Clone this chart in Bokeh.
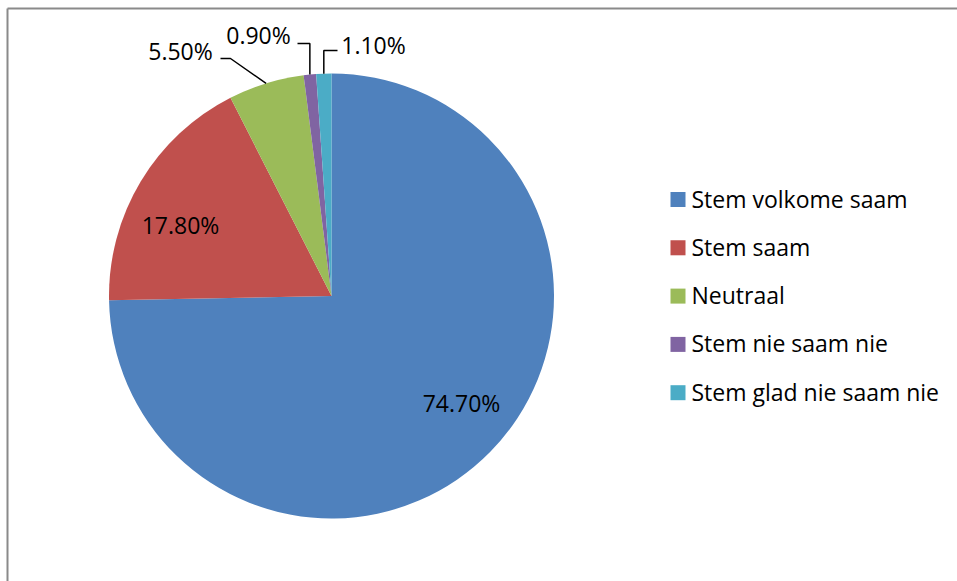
import math
from bokeh.plotting import figure
from bokeh.models import ColumnDataSource
from bokeh.core.properties import value
from bokeh.embed import file_html
from bokeh.resources import INLINE

# Survey answers (share of respondents, %)
categories = ["Stem volkome saam", "Stem saam", "Neutraal", "Stem nie saam nie", "Stem glad nie saam nie"]
percentages = [74.7, 17.8, 5.5, 0.9, 1.1]
colors = ["#4F81BD", "#C0504D", "#9BBB59", "#8064A2", "#4BACC6"]

W, H = 957, 581
FONT = "Open Sans"
FS = "23px"

p = figure(width=W, height=H, x_range=(0, W), y_range=(0, H),
           output_backend="svg", toolbar_location=None, min_border=0)
p.axis.visible = False
p.grid.visible = False
p.outline_line_color = None
p.background_fill_color = "white"
p.border_fill_color = "white"

def py(y):
    # page y (top-down) to plot y (bottom-up)
    return H - y

# pie geometry
cx, cy, r = 331, py(295.5), 222.5
total = sum(percentages)
starts, ends, mids = [], [], []
cum = 0.0
for v in percentages:
    a0 = math.pi / 2 - 2 * math.pi * cum / total
    cum += v
    a1 = math.pi / 2 - 2 * math.pi * cum / total
    starts.append(a0)
    ends.append(a1)
    mids.append((a0 + a1) / 2)

src = ColumnDataSource(dict(start=starts, end=ends, color=colors))
p.wedge(x=cx, y=cy, radius=r, start_angle="start", end_angle="end",
        direction="clock", fill_color="color", line_color=None, source=src)

labels = ["%.2f%%" % v for v in percentages]

# inside labels for the two large slices
inside_pos = {0: (461, 402), 1: (180, 224)}
# outside labels with leader lines: text centre, leader start, elbow
outside = {
    2: dict(text=(180, 50), start=(220, 58), elbow=(230, 58)),
    3: dict(text=(258, 34), start=(297, 43), elbow=None),
    4: dict(text=(373, 44), start=(337, 50), elbow=None),
}

for i, (tx, ty) in inside_pos.items():
    p.text(x=[tx], y=[py(ty)], text=[labels[i]], text_align="center",
           text_baseline="middle", text_font=value(FONT), text_font_size=FS,
           text_color="black")

for i, d in outside.items():
    ax = cx + r * math.cos(mids[i])
    ay = cy + r * math.sin(mids[i])
    sx, sy = d["start"]
    if d["elbow"] is None:
        ex, ey = ax, sy
    else:
        ex, ey = d["elbow"]
    p.line(x=[sx, ex, ax], y=[py(sy), py(ey), ay], line_color="black", line_width=1.5)
    tx, ty = d["text"]
    p.text(x=[tx], y=[py(ty)], text=[labels[i]], text_align="center",
           text_baseline="middle", text_font=value(FONT), text_font_size=FS,
           text_color="black")

# legend
leg_x, leg_y0, leg_dy = 677.5, 199, 48.3
leg_ys = [py(leg_y0 + k * leg_dy) for k in range(len(categories))]
p.rect(x=[leg_x] * len(categories), y=leg_ys, width=15, height=15,
       fill_color=colors, line_color=None)
p.text(x=[691] * len(categories), y=[y + 1 for y in leg_ys], text=categories,
       text_align="left", text_baseline="middle", text_font=value(FONT),
       text_font_size=FS, text_color="black")

# chart area frame (top and left edges visible)
p.line(x=[7, W + 5], y=[py(8), py(8)], line_color="#8a8a8a", line_width=2)
p.line(x=[7, 7], y=[py(8), -5], line_color="#8a8a8a", line_width=2)

open("out.html", "w").write(file_html(p, INLINE))
